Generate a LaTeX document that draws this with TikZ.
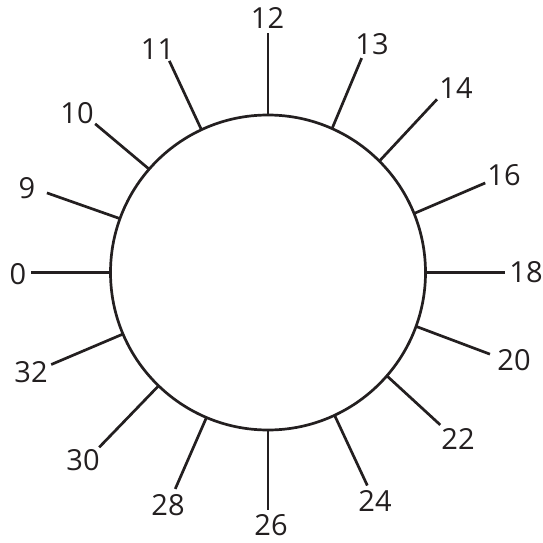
\documentclass[tikz,border=0pt]{standalone}
\usepackage{fontspec}
\setmainfont{Open Sans}
\usetikzlibrary{calc}
\definecolor{ink}{HTML}{231F20}
\begin{document}
\begin{tikzpicture}[x=1pt,y=1pt,
  tick/.style={draw=ink,line width=2.7pt},
  lbl/.style={font=\fontsize{29}{30}\selectfont,text=ink,inner sep=0pt}]
\useasboundingbox (0,0) rectangle (543,542);
\node[draw=ink,line width=2.7pt,circle,minimum size=315pt,inner sep=0pt,outer sep=0pt] (c) at (268,269.5) {};
\foreach \a/\r/\t/\px/\py in {
  90/239.5/12/267.5/18.5,
  66.4/234/13/372/44,
  45.7/242/14/456/88,
  22.4/235/16/504/175,
  0/237/18/526/272,
  -20.2/236.5/20/514/360,
  -41.5/230/22/458/439,
  -65/235/24/375/501,
  -90/237/26/271/525,
  -113.2/235.5/28/168/505,
  -134/243/30/83/460,
  -157/235.5/32/31/372,
  180/237/0/18/274,
  160.2/235/9/27/188,
  139.3/228/10/77/113,
  115/233.5/11/157.5/49}{
  \coordinate (e\t) at ($(c.center)+(\a:\r)$);
  \node[lbl] (l\t) at (\px,542-\py) {\t};
  \draw[tick] (c.\a) -- (e\t);
}
\end{tikzpicture}
\end{document}
